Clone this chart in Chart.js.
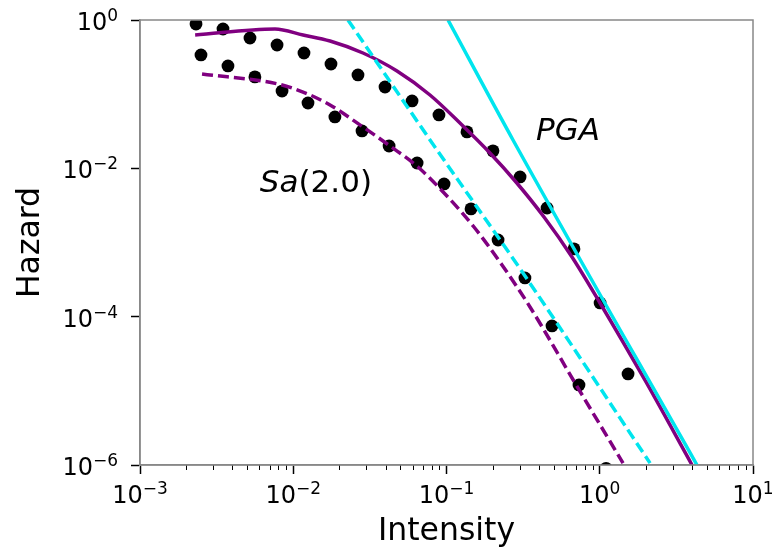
<!DOCTYPE html>
<html>
<head>
<meta charset="utf-8">
<script src="https://cdn.jsdelivr.net/npm/chart.js@4/dist/chart.umd.min.js"></script>
<style>
  html, body { margin: 0; padding: 0; background: #ffffff; }
  #wrap { width: 777px; height: 551px; }
</style>
</head>
<body>
<div id="wrap"><canvas id="c" width="777" height="551"></canvas></div>
<script>
// ---- data ----
// observed hazard points (upper set: PGA)
const intensityPGA = [0.00232, 0.00348, 0.00522, 0.00784, 0.01175, 0.01763, 0.02645, 0.0397, 0.0596, 0.0893, 0.136, 0.201, 0.302, 0.453, 0.679, 1.005, 1.53];
const hazardPGA    = [0.883, 0.756, 0.572, 0.460, 0.359, 0.255, 0.1815, 0.125, 0.081, 0.0525, 0.031, 0.0172, 0.00766, 0.00292, 0.00082, 0.000153, 1.69e-5];
// observed hazard points (lower set: Sa(2.0))
const intensitySa  = [0.0025, 0.00375, 0.00562, 0.00845, 0.01248, 0.0187, 0.0281, 0.0422, 0.0643, 0.0964, 0.1445, 0.217, 0.325, 0.488, 0.732, 1.10];
const hazardSa     = [0.338, 0.240, 0.171, 0.110, 0.076, 0.0493, 0.0319, 0.020, 0.0118, 0.00616, 0.00284, 0.00108, 0.000333, 7.5e-5, 1.2e-5, 9e-7];
// fitted curve (purple solid, PGA)
const fitPGAx = [0.00229, 0.0076, 0.01159, 0.01738, 0.02851, 0.04753, 0.07802, 0.1262, 0.1894, 0.2841, 0.4327, 0.6591, 1.004, 2.004, 4.0];
const fitPGAy = [0.628, 0.756, 0.628, 0.521, 0.359, 0.2053, 0.0974, 0.0384, 0.01661, 0.006543, 0.002208, 6.375e-4, 1.529e-4, 1.316e-5, 1.0e-6];
// fitted curve (purple dashed, Sa(2.0))
const fitSaX = [0.00254, 0.007952, 0.01158, 0.01738, 0.02851, 0.04279, 0.06516, 0.09925, 0.1511, 0.2303, 0.3507, 0.6897, 1.419];
const fitSaY = [0.187, 0.1371, 0.1069, 0.07145, 0.03609, 0.02001, 0.01042, 0.004371, 0.001619, 4.974e-4, 1.351e-4, 1.276e-5, 1.06e-6];
// power-law line (cyan solid, PGA)
const powPGAx = [0.1023, 0.2716, 4.31];
const powPGAy = [1.0, 0.0241, 1.0e-6];
// power-law line (cyan dashed, Sa(2.0))
const powSaX = [0.02275, 0.0867, 0.3155, 2.13];
const powSaY = [1.0, 0.01767, 3.88e-4, 1.06e-6];
// axes: tick values, labels as base + exponent
const xTicks = [1e-3, 1e-2, 1e-1, 1e0, 1e1];
const xTickExp = ['\u22123', '\u22122', '\u22121', '0', '1'];
const yTicks = [1e-6, 1e-4, 1e-2, 1e0];
const yTickExp = ['\u22126', '\u22124', '\u22122', '0'];
const tickBase = '10';
const xTitle = 'Intensity';
const yTitle = 'Hazard';
// annotation labels (text, anchor in data coordinates)
const labelPGA = { text: 'PGA', x: 0.621, y: 0.031 };
const labelSa = { italic: 'Sa', rest: '(2.0)', x: 0.01406, y: 0.00615 };

const pts = (xs, ys) => xs.map((x, i) => ({ x: x, y: ys[i] }));
const FONT = '"DejaVu Sans", "Liberation Sans", sans-serif';
const PURPLE = '#800080';
const CYAN = '#00e5ee';

function drawPow(ctx, base, exp, x, y, align) {
  ctx.font = '24px ' + FONT;
  const w1 = ctx.measureText(base).width;
  ctx.font = '17px ' + FONT;
  const w2 = ctx.measureText(exp).width;
  const w = w1 + w2;
  const left = align === 'center' ? x - w / 2 : x - w;
  ctx.textAlign = 'left';
  ctx.textBaseline = 'alphabetic';
  ctx.font = '24px ' + FONT;
  ctx.fillText(base, left, y);
  ctx.font = '17px ' + FONT;
  ctx.fillText(exp, left + w1, y - 9);
}

const frame = {
  id: 'frame',
  afterDraw(chart) {
    const { ctx, chartArea: a, scales } = chart;
    ctx.save();
    // minor ticks on x axis
    ctx.strokeStyle = '#000';
    ctx.lineWidth = 1;
    for (let d = -3; d < 1; d++) {
      for (let m = 2; m <= 9; m++) {
        const px = Math.round(scales.x.getPixelForValue(m * Math.pow(10, d))) + 0.5;
        ctx.beginPath();
        ctx.moveTo(px, a.bottom);
        ctx.lineTo(px, a.bottom + 5);
        ctx.stroke();
      }
    }
    // full frame
    ctx.strokeStyle = '#888';
    ctx.lineWidth = 1.5;
    ctx.strokeRect(a.left, a.top, a.right - a.left, a.bottom - a.top);
    // tick labels with superscript exponents
    ctx.fillStyle = '#000';
    xTicks.forEach((v, i) => drawPow(ctx, tickBase, xTickExp[i], scales.x.getPixelForValue(v), a.bottom + 38, 'center'));
    yTicks.forEach((v, i) => drawPow(ctx, tickBase, yTickExp[i], a.left - 22, scales.y.getPixelForValue(v) + 10, 'right'));
    ctx.restore();
  },
  afterDatasetsDraw(chart) {
    const { ctx, scales } = chart;
    ctx.save();
    ctx.fillStyle = '#000';
    ctx.textBaseline = 'middle';
    ctx.textAlign = 'center';
    ctx.font = 'italic 31px ' + FONT;
    ctx.fillText(labelPGA.text, scales.x.getPixelForValue(labelPGA.x), scales.y.getPixelForValue(labelPGA.y));
    const cx = scales.x.getPixelForValue(labelSa.x);
    const cy = scales.y.getPixelForValue(labelSa.y);
    ctx.font = 'italic 31px ' + FONT;
    const w1 = ctx.measureText(labelSa.italic).width;
    ctx.font = '31px ' + FONT;
    const w2 = ctx.measureText(labelSa.rest).width;
    const x0 = cx - (w1 + w2) / 2;
    ctx.textAlign = 'left';
    ctx.font = 'italic 31px ' + FONT;
    ctx.fillText(labelSa.italic, x0, cy);
    ctx.font = '31px ' + FONT;
    ctx.fillText(labelSa.rest, x0 + w1, cy);
    ctx.restore();
  }
};

const lineDs = (data, color, dash, order) => ({
  type: 'scatter', data: data, showLine: true, borderColor: color, borderWidth: 3.5,
  borderDash: dash, pointRadius: 0, tension: 0.4, cubicInterpolationMode: 'monotone',
  fill: false, order: order, clip: 0
});

new Chart(document.getElementById('c'), {
  type: 'scatter',
  data: {
    datasets: [
      lineDs(pts(powSaX, powSaY), CYAN, [11, 5], 1),
      lineDs(pts(powPGAx, powPGAy), CYAN, [], 2),
      lineDs(pts(fitSaX, fitSaY), PURPLE, [11, 5], 3),
      lineDs(pts(fitPGAx, fitPGAy), PURPLE, [], 4),
      { data: pts(intensitySa, hazardSa), backgroundColor: '#000', borderWidth: 0, pointRadius: 6.4, order: 5, clip: 0 },
      { data: pts(intensityPGA, hazardPGA), backgroundColor: '#000', borderWidth: 0, pointRadius: 6.4, order: 6, clip: 0 }
    ]
  },
  options: {
    responsive: false,
    animation: false,
    devicePixelRatio: 1,
    events: [],
    layout: { padding: { top: 20, right: 24, left: 0, bottom: 0 } },
    plugins: { legend: { display: false }, tooltip: { enabled: false } },
    scales: {
      x: {
        type: 'logarithmic', position: 'bottom', min: 1e-3, max: 10,
        afterBuildTicks: s => { s.ticks = xTicks.map(v => ({ value: v })); },
        afterFit: s => { s.height = 86; },
        ticks: { display: false, autoSkip: false, maxRotation: 0 },
        grid: { display: true, drawOnChartArea: false, drawTicks: true, tickLength: 9, tickColor: '#000', tickWidth: 1.5 },
        border: { display: true, color: '#888', width: 1.5 },
        title: { display: true, text: xTitle, color: '#000', font: { family: FONT, size: 31.5 }, padding: { top: 0, bottom: 0 } }
      },
      y: {
        type: 'logarithmic', position: 'left', min: 1e-6, max: 1,
        afterBuildTicks: s => { s.ticks = yTicks.map(v => ({ value: v })); },
        afterFit: s => { s.width = 140; },
        ticks: { display: false, autoSkip: false },
        grid: { display: true, drawOnChartArea: false, drawTicks: true, tickLength: 9, tickColor: '#000', tickWidth: 1.5 },
        border: { display: true, color: '#888', width: 1.5 },
        title: { display: true, text: yTitle, color: '#000', font: { family: FONT, size: 31.5 }, padding: { top: 12, bottom: 0 } }
      }
    }
  },
  plugins: [frame]
});
</script>
</body>
</html>
